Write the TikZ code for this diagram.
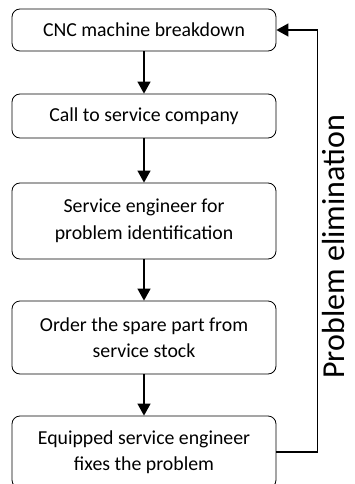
\documentclass[tikz,border=0pt]{standalone}
\usepackage{fontspec}
\setmainfont{Carlito}
\usetikzlibrary{arrows.meta}
\usetikzlibrary{positioning}
\tikzstyle{stepbox}=[draw,rounded corners=8pt,minimum width=264pt,inner sep=2pt,align=center,font=\fontsize{19.8}{26.5}\selectfont,line width=0.8pt]
\tikzstyle{edge} = [draw,line width=1.3pt,-{Triangle[length=12pt,width=13pt]}]
\tikzstyle{looplabel} = [font=\fontsize{32}{36}\selectfont,inner sep=4pt]

\begin{document}
\begin{tikzpicture}[x=1pt,y=-1pt]
    \useasboundingbox (0,0) rectangle (354,484);
    % First we draw the process steps
    \foreach \pos/\h/\name/\text in {{(144,30)/42/s1/CNC machine breakdown},
        {(144,116)/44/s2/Call to service company},
        {(144,221)/76/s3/Service engineer for\\problem identification},
        {(144,337.5)/73/s4/Order the spare part from\\service stock},
        {(144,452)/72/s5/Equipped service engineer\\fixes the problem}}
        \node[stepbox,minimum height=\h pt] (\name) at \pos {\text};

    % Connect the steps downwards
    \foreach \source/\dest in {s1/s2, s2/s3, s3/s4, s4/s5}
        \path[edge] (\source) -- (\dest);

    % Loop back to the top
    \path[edge] (s5.east) -- ++(41,0) |- node[looplabel,pos=0.243,rotate=90,below] {Problem elimination} (s1.east);
\end{tikzpicture}
\end{document}
